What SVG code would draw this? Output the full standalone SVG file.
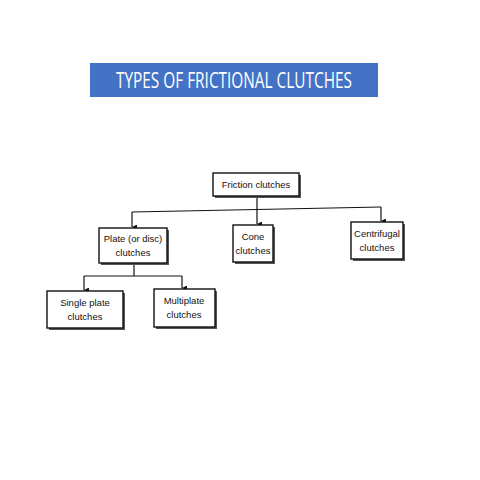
<svg xmlns="http://www.w3.org/2000/svg" width="480" height="480" viewBox="0 0 480 480">
<defs>
<style>
.box{fill:#fff;stroke:#111;stroke-width:1.4}
.sh{fill:#555}
.t{font-family:"Liberation Sans",Arial,sans-serif;font-size:9.5px;fill:#111;text-anchor:middle}
.ln{stroke:#111;stroke-width:1.2;fill:none}
</style>
<marker id="ar" viewBox="0 0 6 6" refX="3" refY="6" markerWidth="5" markerHeight="5" orient="auto-start-reverse" markerUnits="userSpaceOnUse">
<path d="M0,0 L6,0 L3,6 Z" fill="#111"/>
</marker>
</defs>
<rect width="480" height="480" fill="#fff"/>
<g id="title">
<rect x="90" y="63" width="288" height="34" fill="#4472c4"/>
<text x="234" y="88" font-family="'Open Sans','Liberation Sans',sans-serif" font-size="21" fill="#fff" text-anchor="middle" textLength="236" lengthAdjust="spacingAndGlyphs">TYPES OF FRICTIONAL CLUTCHES</text>
</g>
<g id="connectors">
<path class="ln" d="M257,196 V224" marker-end="url(#ar)"/>
<path class="ln" d="M132,212 L381,207"/>
<path class="ln" d="M132,212 V227" marker-end="url(#ar)"/>
<path class="ln" d="M381,207 V221" marker-end="url(#ar)"/>
<path class="ln" d="M134,263 V276"/>
<path class="ln" d="M84,276 H182"/>
<path class="ln" d="M84,276 V290" marker-end="url(#ar)"/>
<path class="ln" d="M182,276 V288" marker-end="url(#ar)"/>
</g>
<g id="friction">
<rect class="sh" x="215" y="175" width="86" height="23"/>
<rect class="box" x="213" y="173" width="86" height="23"/>
<text class="t" x="256" y="188">Friction clutches</text>
</g>
<g id="plate">
<rect class="sh" x="101" y="230" width="68" height="35"/>
<rect class="box" x="99" y="228" width="68" height="35"/>
<text class="t" x="133" y="242">Plate (or disc)</text>
<text class="t" x="133" y="256">clutches</text>
</g>
<g id="cone">
<rect class="sh" x="235" y="227" width="40" height="37"/>
<rect class="box" x="233" y="225" width="40" height="37"/>
<text class="t" x="253" y="240">Cone</text>
<text class="t" x="253" y="254">clutches</text>
</g>
<g id="centrifugal">
<rect class="sh" x="353" y="224" width="52" height="37"/>
<rect class="box" x="351" y="222" width="52" height="37"/>
<text class="t" x="377" y="237">Centrifugal</text>
<text class="t" x="377" y="251">clutches</text>
</g>
<g id="single">
<rect class="sh" x="49" y="293" width="76" height="37"/>
<rect class="box" x="47" y="291" width="76" height="37"/>
<text class="t" x="85" y="306">Single plate</text>
<text class="t" x="85" y="320">clutches</text>
</g>
<g id="multi">
<rect class="sh" x="156" y="291" width="61" height="38"/>
<rect class="box" x="154" y="289" width="61" height="38"/>
<text class="t" x="184" y="304">Multiplate</text>
<text class="t" x="184" y="318">clutches</text>
</g>
</svg>
